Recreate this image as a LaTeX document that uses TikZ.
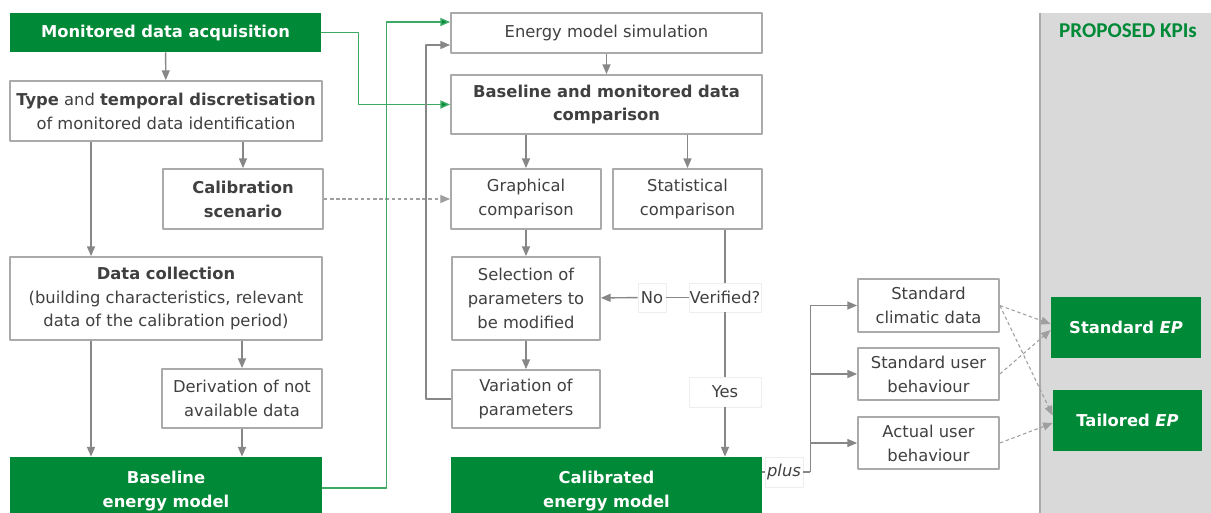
\documentclass[tikz,border=0pt]{standalone}
\usepackage{fontspec}
\setmainfont{DejaVu Sans}
\newfontfamily\kpifont{Carlito}
\usetikzlibrary{arrows.meta}
\definecolor{epgreen}{RGB}{0,137,54}
\definecolor{lnkgreen}{RGB}{60,170,100}
\definecolor{boxgrey}{RGB}{170,170,170}
\definecolor{arrgrey}{RGB}{135,135,135}
\definecolor{txtgrey}{RGB}{64,64,64}
\definecolor{panelgrey}{RGB}{217,217,217}
\definecolor{faintgrey}{RGB}{238,238,238}
\begin{document}
\begin{tikzpicture}[x=0.02cm, y=-0.02cm, font=\fontsize{9.3}{13.6}\selectfont, line join=round,
	>={Triangle[length=5.5pt,width=4.5pt]},
	sz/.style 2 args={minimum width=#1*0.02cm, minimum height=#2*0.02cm},
	box/.style={draw=boxgrey, line width=1pt, fill=white, text=txtgrey, align=center, inner sep=0pt},
	gbox/.style={fill=epgreen, text=white, font=\fontsize{9.3}{13.6}\selectfont\bfseries, align=center, inner sep=0pt},
	tag/.style={draw=faintgrey, fill=white, text=txtgrey, align=center, inner sep=0pt},
	aline/.style={draw=arrgrey, line width=0.8pt},
	gline/.style={draw=lnkgreen, line width=0.8pt, >={Triangle[length=5.5pt,width=4.5pt,fill=epgreen]}},
	dline/.style={draw=arrgrey!80, line width=0.6pt, dash pattern=on 2pt off 1.5pt}]
	\useasboundingbox (0,0) rectangle (1211,513);
	\clip (0,0) rectangle (1211,513);
	\fill[white] (0,0) rectangle (1211,513);
	\fill[panelgrey] (1040,13) rectangle (1211,520);
	\draw[boxgrey, line width=0.7pt] (1040,13) -- (1040,520);
	\node[text=epgreen, font=\kpifont\fontsize{12}{14}\selectfont\bfseries] (kpi) at (1128,31) {PROPOSED KPIs};

	\node[gbox, sz={311}{39}] (acq) at (165.5,32.5) {Monitored data acquisition};
	\node[box, sz={312}{60}] (typ) at (166,111) {\textbf{Type} and \textbf{temporal discretisation}\\of monitored data identification};
	\node[box, sz={160}{60}, font=\fontsize{9.3}{13.6}\selectfont\bfseries] (cal) at (243,199) {Calibration\\scenario};
	\node[box, sz={312}{83}] (col) at (166,298.5) {\textbf{Data collection}\\(building characteristics, relevant\\data of the calibration period)};
	\node[box, sz={160}{59}] (der) at (242,398.5) {Derivation of not\\available data};
	\node[gbox, sz={312}{69}] (base) at (166,491.5) {Baseline\\energy model};

	\node[box, sz={311}{40}] (sim) at (606.5,33) {Energy model simulation};
	\node[box, sz={311}{59}, font=\fontsize{9.3}{13.6}\selectfont\bfseries] (cmp) at (606.5,104.5) {Baseline and monitored data\\comparison};
	\node[box, sz={150}{60}] (gra) at (526,199) {Graphical\\comparison};
	\node[box, sz={149}{60}] (sta) at (687.5,199) {Statistical\\comparison};
	\node[box, sz={148}{83}] (sel) at (526,298.5) {Selection of\\parameters to\\be modified};
	\node[box, sz={148}{58}] (var) at (526,399) {Variation of\\parameters};
	\node[tag, sz={28}{29}] (no) at (652,297.5) {No};
	\node[tag, sz={72}{29}] (ver) at (725,297.5) {Verified?};
	\node[tag, sz={72}{30}] (yes) at (725,392) {Yes};
	\node[gbox, sz={311}{69}] (calm) at (606.5,491.5) {Calibrated\\energy model};
	\node[tag, sz={38}{30}, font=\fontsize{9.3}{13.6}\selectfont\itshape] (plus) at (784,472) {plus};

	\node[box, sz={141}{53}] (clim) at (928.5,305.5) {Standard\\climatic data};
	\node[box, sz={141}{52}] (sub) at (928.5,374) {Standard user\\behaviour};
	\node[box, sz={141}{52}] (aub) at (928.5,443) {Actual user\\behaviour};
	\node[gbox, sz={150}{61}] (sep) at (1126,327.5) {Standard \textit{EP}};
	\node[gbox, sz={149}{61}] (tep) at (1127.5,420.5) {Tailored \textit{EP}};

	\draw[aline,->] (acq) -- (typ);
	\draw[aline,->] ([xshift=-1.5cm]typ.south) -- ([xshift=-1.5cm]col.north);
	\draw[aline,->] (cal.north |- typ.south) -- (cal);
	\draw[aline,->] ([xshift=-1.5cm]col.south) -- ([xshift=-1.5cm]base.north);
	\draw[aline,->] (der.north |- col.south) -- (der);
	\draw[aline,->] (der) -- (der.south |- base.north);
	\draw[dline,->] (cal) -- (gra);
	\draw[gline,->] (acq.east) -- ++(37,0) |- (cmp.west);
	\draw[gline,->] (base.east |- 0,488) -- ++(64,0) |- ([yshift=0.22cm]sim.west);
	\draw[aline,->] (var.west) -- ++(-25,0) |- ([yshift=-0.24cm]sim.west);

	\draw[aline,->] (sim) -- (cmp);
	\draw[aline,->] (gra.north |- cmp.south) -- (gra);
	\draw[aline,->] (sta.north |- cmp.south) -- (sta);
	\draw[aline,->] (gra) -- (sel);
	\draw[aline,->] (sel) -- (var);
	\draw[aline] (ver.north |- sta.south) -- (ver);
	\draw[aline] (ver) -- (no);
	\draw[aline,->] (no) -- (sel);
	\draw[aline] (ver) -- (yes);
	\draw[aline,->] (yes) -- (yes.south |- calm.north);

	\draw[aline] (calm.east |- plus) -- (plus);
	\draw[aline] (plus.east) -- ++(7,0) coordinate (spl);
	\draw[aline,->] (spl) |- (clim.west);
	\draw[aline,->] (spl) |- (sub.west);
	\draw[aline,->] (spl) |- (aub.west);

	\draw[dline,->] (clim.east) -- ([yshift=0.07cm]sep.west);
	\draw[dline,->] (clim.east) -- ([yshift=0.1cm]tep.west);
	\draw[dline,->] (sub.east) -- ([yshift=-0.05cm]sep.west);
	\draw[dline,->] (aub.east) -- ([yshift=-0.05cm]tep.west);
\end{tikzpicture}
\end{document}
